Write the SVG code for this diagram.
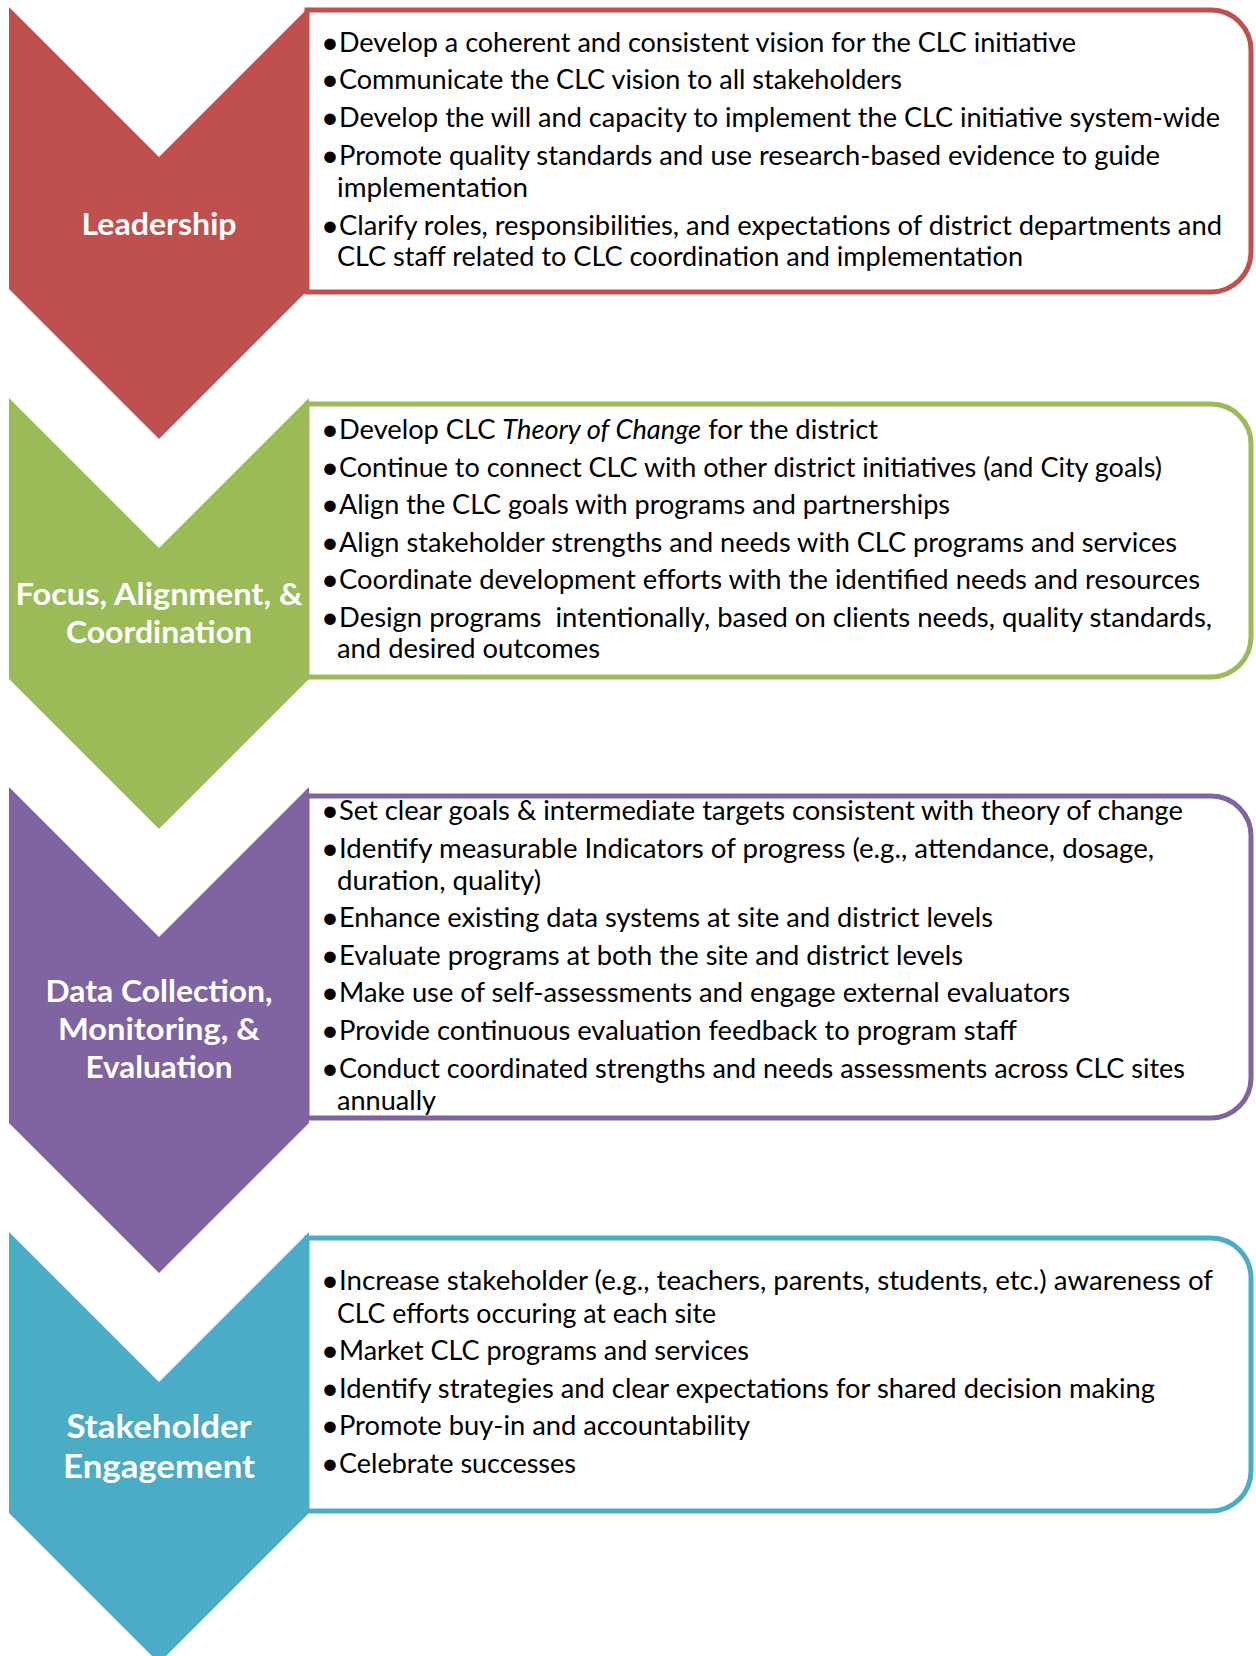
<svg xmlns="http://www.w3.org/2000/svg" width="1256" height="1656" viewBox="0 0 1256 1656">
<style>
.box{fill:#fff;stroke-width:5}
.t{font-family:Lato,"Open Sans","Liberation Sans",sans-serif;font-size:27px;fill:#000}
.b{font-family:Lato,"Liberation Sans",sans-serif;font-size:31px;fill:#000;text-anchor:middle}
.h{font-family:Lato,"Open Sans","Liberation Sans",sans-serif;font-weight:bold;font-size:30.5px;fill:#fff;text-anchor:middle}
.h4{font-size:33px}
.red{stroke:#C0504D}.redf{fill:#C0504D}
.grn{stroke:#9BBB59}.grnf{fill:#9BBB59}
.pur{stroke:#8064A2}.purf{fill:#8064A2}
.tea{stroke:#4BACC6}.teaf{fill:#4BACC6}
</style>
<rect width="1256" height="1656" fill="#fff"/>
<g id="connectors"/>

<g id="leadership">
<path class="box red" d="M307,10 H1211 A40,40 0 0 1 1251,50 V252 A40,40 0 0 1 1211,292 H307 Z"/>
<polygon class="redf" points="9,7 159,157 309,7 309,289 159,439 9,289"/>
<text class="h" x="159" y="235" textLength="155" lengthAdjust="spacingAndGlyphs">Leadership</text>
<text class="b" x="330" y="53">•</text><text class="t" x="339" y="52" textLength="737" lengthAdjust="spacingAndGlyphs">Develop a coherent and consistent vision for the CLC initiative</text>
<text class="b" x="330" y="90">•</text><text class="t" x="339" y="89" textLength="563" lengthAdjust="spacingAndGlyphs">Communicate the CLC vision to all stakeholders</text>
<text class="b" x="330" y="128">•</text><text class="t" x="339" y="127" textLength="881" lengthAdjust="spacingAndGlyphs">Develop the will and capacity to implement the CLC initiative system-wide</text>
<text class="b" x="330" y="166">•</text><text class="t" x="339" y="165" textLength="821" lengthAdjust="spacingAndGlyphs">Promote quality standards and use research-based evidence to guide</text>
<text class="t" x="337" y="197" textLength="191" lengthAdjust="spacingAndGlyphs">implementation</text>
<text class="b" x="330" y="236">•</text><text class="t" x="339" y="235" textLength="883" lengthAdjust="spacingAndGlyphs">Clarify roles, responsibilities, and expectations of district departments and</text>
<text class="t" x="337" y="266" textLength="686" lengthAdjust="spacingAndGlyphs">CLC staff related to CLC coordination and implementation</text>
</g>

<g id="focus">
<path class="box grn" d="M307,404 H1211 A40,40 0 0 1 1251,444 V637 A40,40 0 0 1 1211,677 H307 Z"/>
<polygon class="grnf" points="9,398 159,548 309,398 309,679 159,829 9,679"/>
<text class="h" x="159" y="605" textLength="287" lengthAdjust="spacingAndGlyphs">Focus, Alignment, &amp;</text>
<text class="h" x="159" y="643" textLength="186" lengthAdjust="spacingAndGlyphs">Coordination</text>
<text class="b" x="330" y="440">•</text><text class="t" x="339" y="439" textLength="539" lengthAdjust="spacingAndGlyphs">Develop CLC <tspan font-style="italic">Theory of Change</tspan> for the district</text>
<text class="b" x="330" y="478">•</text><text class="t" x="339" y="477" textLength="823" lengthAdjust="spacingAndGlyphs">Continue to connect CLC with other district initiatives (and City goals)</text>
<text class="b" x="330" y="515">•</text><text class="t" x="339" y="514" textLength="611" lengthAdjust="spacingAndGlyphs">Align the CLC goals with programs and partnerships</text>
<text class="b" x="330" y="553">•</text><text class="t" x="339" y="552" textLength="838" lengthAdjust="spacingAndGlyphs">Align stakeholder strengths and needs with CLC programs and services</text>
<text class="b" x="330" y="590">•</text><text class="t" x="339" y="589" textLength="861" lengthAdjust="spacingAndGlyphs">Coordinate development efforts with the identified needs and resources</text>
<text class="b" x="330" y="628">•</text><text class="t" x="339" y="627" textLength="873" lengthAdjust="spacingAndGlyphs" xml:space="preserve" style="white-space:pre">Design programs  intentionally, based on clients needs, quality standards,</text>
<text class="t" x="337" y="658" textLength="263" lengthAdjust="spacingAndGlyphs">and desired outcomes</text>
</g>

<g id="data">
<path class="box pur" d="M307,796 H1211 A40,40 0 0 1 1251,836 V1078 A40,40 0 0 1 1211,1118 H307 Z"/>
<polygon class="purf" points="9,787 159,937 309,787 309,1123 159,1273 9,1123"/>
<text class="h" x="159" y="1002" textLength="227" lengthAdjust="spacingAndGlyphs">Data Collection,</text>
<text class="h" x="159" y="1040" textLength="202" lengthAdjust="spacingAndGlyphs">Monitoring, &amp;</text>
<text class="h" x="159" y="1078" textLength="147" lengthAdjust="spacingAndGlyphs">Evaluation</text>
<text class="b" x="330" y="821">•</text><text class="t" x="339" y="820" textLength="844" lengthAdjust="spacingAndGlyphs">Set clear goals &amp; intermediate targets consistent with theory of change</text>
<text class="b" x="330" y="859">•</text><text class="t" x="339" y="858" textLength="815" lengthAdjust="spacingAndGlyphs">Identify measurable Indicators of progress (e.g., attendance, dosage,</text>
<text class="t" x="337" y="890" textLength="204" lengthAdjust="spacingAndGlyphs">duration, quality)</text>
<text class="b" x="330" y="928">•</text><text class="t" x="339" y="927" textLength="654" lengthAdjust="spacingAndGlyphs">Enhance existing data systems at site and district levels</text>
<text class="b" x="330" y="966">•</text><text class="t" x="339" y="965" textLength="624" lengthAdjust="spacingAndGlyphs">Evaluate programs at both the site and district levels</text>
<text class="b" x="330" y="1003">•</text><text class="t" x="339" y="1002" textLength="731" lengthAdjust="spacingAndGlyphs">Make use of self-assessments and engage external evaluators</text>
<text class="b" x="330" y="1041">•</text><text class="t" x="339" y="1040" textLength="678" lengthAdjust="spacingAndGlyphs">Provide continuous evaluation feedback to program staff</text>
<text class="b" x="330" y="1079">•</text><text class="t" x="339" y="1078" textLength="846" lengthAdjust="spacingAndGlyphs">Conduct coordinated strengths and needs assessments across CLC sites</text>
<text class="t" x="337" y="1110" textLength="99" lengthAdjust="spacingAndGlyphs">annually</text>
</g>

<g id="stakeholder">
<path class="box tea" d="M307,1238 H1211 A40,40 0 0 1 1251,1278 V1471 A40,40 0 0 1 1211,1511 H307 Z"/>
<polygon class="teaf" points="9,1232 159,1382 309,1232 309,1513 159,1663 9,1513"/>
<text class="h h4" x="159" y="1438" textLength="185" lengthAdjust="spacingAndGlyphs">Stakeholder</text>
<text class="h h4" x="159" y="1478" textLength="192" lengthAdjust="spacingAndGlyphs">Engagement</text>
<text class="b" x="330" y="1291">•</text><text class="t" x="339" y="1290" textLength="874" lengthAdjust="spacingAndGlyphs">Increase stakeholder (e.g., teachers, parents, students, etc.) awareness of</text>
<text class="t" x="337" y="1323" textLength="379" lengthAdjust="spacingAndGlyphs">CLC efforts occuring at each site</text>
<text class="b" x="330" y="1361">•</text><text class="t" x="339" y="1360" textLength="410" lengthAdjust="spacingAndGlyphs">Market CLC programs and services</text>
<text class="b" x="330" y="1399">•</text><text class="t" x="339" y="1398" textLength="816" lengthAdjust="spacingAndGlyphs">Identify strategies and clear expectations for shared decision making</text>
<text class="b" x="330" y="1436">•</text><text class="t" x="339" y="1435" textLength="411" lengthAdjust="spacingAndGlyphs">Promote buy-in and accountability</text>
<text class="b" x="330" y="1474">•</text><text class="t" x="339" y="1473" textLength="237" lengthAdjust="spacingAndGlyphs">Celebrate successes</text>
</g>
</svg>
